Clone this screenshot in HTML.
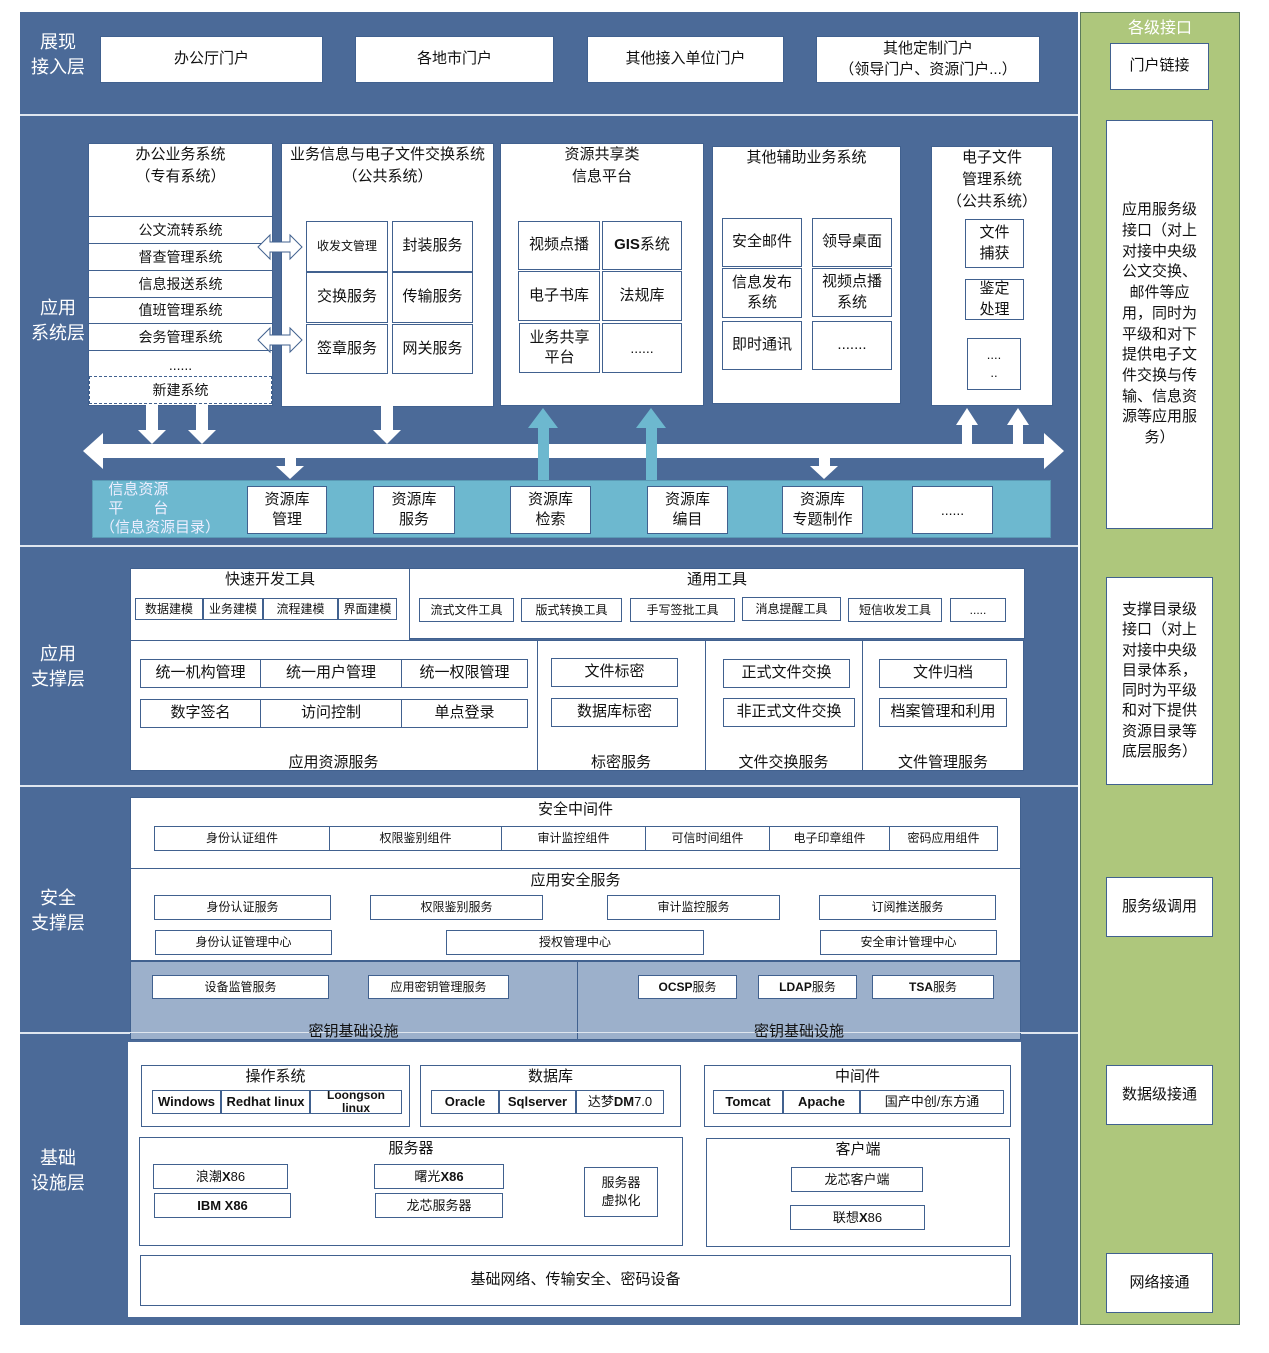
<!DOCTYPE html>
<html><head><meta charset="utf-8">
<style>
*{margin:0;padding:0;box-sizing:border-box}
body{width:1269px;height:1353px;background:#fff;position:relative;overflow:hidden;font-family:"Liberation Sans","Noto Sans CJK SC",sans-serif;color:#111}
div{position:absolute}
.b{background:#fff;border:1px solid #41618f;display:flex;align-items:center;justify-content:center;text-align:center;font-size:14px;line-height:1.35}
.s{font-size:12px}
.w{background:#fff}
.t{text-align:center;font-size:14px;line-height:1.4}
.lay{color:#fff;font-size:18px;line-height:1.4;text-align:center;width:80px;left:18px}
.g{background:#fff;border:1px solid #41618f;display:flex;align-items:flex-start;justify-content:center;text-align:center;font-size:14px;line-height:1.45}
.bold{font-weight:bold}
</style></head><body>
<div style="left:20px;top:12px;width:1058px;height:1313px;background:#4b6a98"></div>
<div style="left:20px;top:114px;width:1058px;height:2px;background:#dfe6ef"></div>
<div style="left:20px;top:545px;width:1058px;height:2px;background:#dfe6ef"></div>
<div style="left:20px;top:785px;width:1058px;height:2px;background:#dfe6ef"></div>
<div style="left:20px;top:1032px;width:1058px;height:2px;background:#dfe6ef"></div>
<div style="left:1080px;top:12px;width:160px;height:1313px;background:#aec77c;border:1px solid #5b7a5a"></div>
<div style="left:1080px;top:14px;width:160px;text-align:center;color:#fff;font-size:16px">各级接口</div>
<div class="b" style="left:1110px;top:43px;width:99px;height:47px;font-size:15px">门户链接</div>
<div class="b" style="left:1106px;top:120px;width:107px;height:409px;font-size:15px;padding:0 13px;line-height:1.38">应用服务级接口（对上对接中央级公文交换、邮件等应用，同时为平级和对下提供电子文件交换与传输、信息资源等应用服务）</div>
<div class="b" style="left:1106px;top:577px;width:107px;height:208px;font-size:15px;padding:0 13px;line-height:1.35">支撑目录级接口（对上对接中央级目录体系，同时为平级和对下提供资源目录等底层服务）</div>
<div class="b" style="left:1106px;top:877px;width:107px;height:60px;font-size:15px">服务级调用</div>
<div class="b" style="left:1106px;top:1065px;width:107px;height:60px;font-size:15px">数据级接通</div>
<div class="b" style="left:1106px;top:1253px;width:107px;height:60px;font-size:15px">网络接通</div>

<div class="lay" style="top:30px">展现<br>接入层</div>
<div class="lay" style="top:296px">应用<br>系统层</div>
<div class="lay" style="top:642px">应用<br>支撑层</div>
<div class="lay" style="top:886px">安全<br>支撑层</div>
<div class="lay" style="top:1146px">基础<br>设施层</div>

<div class="b" style="left:100px;top:36px;width:223px;height:47px;font-size:15px">办公厅门户</div>
<div class="b" style="left:355px;top:36px;width:199px;height:47px;font-size:15px">各地市门户</div>
<div class="b" style="left:587px;top:36px;width:197px;height:47px;font-size:15px">其他接入单位门户</div>
<div class="b" style="left:816px;top:36px;width:224px;height:47px;font-size:15px">其他定制门户<br>（领导门户、资源门户...）</div>

<div class="g" style="left:88px;top:143px;width:185px;height:263px;font-size:15px">办公业务系统<br>（专有系统）</div>
<div class="b" style="left:88px;top:216px;width:185px;height:28px">公文流转系统</div>
<div class="b" style="left:88px;top:243px;width:185px;height:28px">督查管理系统</div>
<div class="b" style="left:88px;top:270px;width:185px;height:28px">信息报送系统</div>
<div class="b" style="left:88px;top:297px;width:185px;height:27px">值班管理系统</div>
<div class="b" style="left:88px;top:323px;width:185px;height:28px">会务管理系统</div>
<div class="t" style="left:88px;top:356px;width:185px">......</div>
<div class="b" style="left:89px;top:376px;width:183px;height:28px;border:1px dashed #41618f">新建系统</div>

<div class="g" style="left:281px;top:143px;width:213px;height:264px;font-size:15px">业务信息与电子文件交换系统<br>（公共系统）</div>
<div class="b s" style="left:306px;top:221px;width:82px;height:51px">收发文管理</div>
<div class="b" style="left:392px;top:221px;width:81px;height:51px;font-size:15px">封装服务</div>
<div class="b" style="left:306px;top:272px;width:82px;height:51px;font-size:15px">交换服务</div>
<div class="b" style="left:392px;top:272px;width:81px;height:51px;font-size:15px">传输服务</div>
<div class="b" style="left:306px;top:324px;width:82px;height:50px;font-size:15px">签章服务</div>
<div class="b" style="left:392px;top:324px;width:81px;height:50px;font-size:15px">网关服务</div>

<div class="g" style="left:500px;top:143px;width:204px;height:263px;font-size:15px">资源共享类<br>信息平台</div>
<div class="b" style="left:518px;top:221px;width:82px;height:49px;font-size:15px">视频点播</div>
<div class="b" style="left:602px;top:221px;width:80px;height:49px;font-size:15px"><b>GIS</b>系统</div>
<div class="b" style="left:518px;top:271px;width:82px;height:50px;font-size:15px">电子书库</div>
<div class="b" style="left:602px;top:271px;width:80px;height:50px;font-size:15px">法规库</div>
<div class="b" style="left:519px;top:323px;width:81px;height:50px;font-size:15px">业务共享<br>平台</div>
<div class="b" style="left:602px;top:323px;width:80px;height:50px">......</div>

<div class="g" style="left:712px;top:146px;width:189px;height:258px;font-size:15px">其他辅助业务系统</div>
<div class="b" style="left:722px;top:218px;width:80px;height:49px;font-size:15px">安全邮件</div>
<div class="b" style="left:812px;top:218px;width:80px;height:49px;font-size:15px">领导桌面</div>
<div class="b" style="left:722px;top:268px;width:80px;height:50px;font-size:15px">信息发布<br>系统</div>
<div class="b" style="left:812px;top:268px;width:80px;height:49px;font-size:15px">视频点播<br>系统</div>
<div class="b" style="left:722px;top:321px;width:80px;height:49px;font-size:15px">即时通讯</div>
<div class="b" style="left:812px;top:321px;width:80px;height:49px;font-size:15px">.......</div>

<div class="g" style="left:931px;top:146px;width:122px;height:260px;font-size:15px">电子文件<br>管理系统<br>（公共系统）</div>
<div class="b" style="left:965px;top:219px;width:59px;height:49px;font-size:15px">文件<br>捕获</div>
<div class="b" style="left:965px;top:279px;width:59px;height:41px;font-size:15px">鉴定<br>处理</div>
<div class="b" style="left:967px;top:338px;width:54px;height:52px;font-size:13px">....<br>..</div>

<div style="left:92px;top:480px;width:959px;height:58px;background:#6db8cf;border:1px solid #5a9ab5"></div>
<div style="left:100px;top:481px;width:135px;color:#eef;font-size:15px;line-height:1.25">&nbsp;&nbsp;信息资源<br>&nbsp;&nbsp;平　　台<br>（信息资源目录）</div>
<div class="b" style="left:247px;top:486px;width:80px;height:48px;font-size:15px">资源库<br>管理</div>
<div class="b" style="left:373px;top:486px;width:82px;height:48px;font-size:15px">资源库<br>服务</div>
<div class="b" style="left:510px;top:486px;width:81px;height:48px;font-size:15px">资源库<br>检索</div>
<div class="b" style="left:647px;top:486px;width:81px;height:48px;font-size:15px">资源库<br>编目</div>
<div class="b" style="left:782px;top:486px;width:81px;height:48px;font-size:15px">资源库<br>专题制作</div>
<div class="b" style="left:912px;top:486px;width:81px;height:48px">......</div>

<svg style="position:absolute;left:0;top:0" width="1269" height="1353">
<g fill="#fff">
<polygon points="83,451 103,433 103,444 1044,444 1044,433 1064,451 1044,469 1044,458 103,458 103,469"/>
<polygon points="146,405 158,405 158,430 166,430 152,444 138,430 146,430"/>
<polygon points="196,405 208,405 208,430 216,430 202,444 188,430 196,430"/>
<polygon points="381,406 393,406 393,430 401,430 387,444 373,430 381,430"/>
<polygon points="285,458 296,458 296,466 304,466 290,479 276,466 285,466"/>
<polygon points="819,458 830,458 830,466 838,466 824,479 810,466 819,466"/>
<polygon points="962,444 972,444 972,425 978,425 967,408 956,425 962,425"/>
<polygon points="1013,444 1023,444 1023,425 1029,425 1018,408 1007,425 1013,425"/>
</g>
<g fill="#6db8cf">
<polygon points="538,480 549,480 549,428 558,428 543,408 528,428 538,428"/>
<polygon points="646,480 657,480 657,428 666,428 651,408 636,428 646,428"/>
</g>
<g fill="#fff" stroke="#41618f" stroke-width="1">
<polygon points="258,247 270,235 270,242 290,242 290,235 302,247 290,259 290,252 270,252 270,259"/>
<polygon points="258,340 270,328 270,335 290,335 290,328 302,340 290,352 290,345 270,345 270,352"/>
</g>
</svg>

<div class="g" style="left:130px;top:568px;width:280px;height:73px;font-size:15px">快速开发工具</div>
<div class="b s" style="left:135px;top:598px;width:68px;height:22px">数据建模</div>
<div class="b s" style="left:203px;top:598px;width:60px;height:22px">业务建模</div>
<div class="b s" style="left:263px;top:598px;width:75px;height:22px">流程建模</div>
<div class="b s" style="left:338px;top:598px;width:59px;height:22px">界面建模</div>
<div class="g" style="left:409px;top:568px;width:616px;height:71px;font-size:15px">通用工具</div>
<div class="b s" style="left:419px;top:598px;width:95px;height:24px">流式文件工具</div>
<div class="b s" style="left:521px;top:598px;width:101px;height:24px">版式转换工具</div>
<div class="b s" style="left:630px;top:598px;width:105px;height:24px">手写签批工具</div>
<div class="b s" style="left:742px;top:597px;width:99px;height:24px">消息提醒工具</div>
<div class="b s" style="left:848px;top:598px;width:94px;height:24px">短信收发工具</div>
<div class="b s" style="left:950px;top:598px;width:56px;height:24px">.....</div>
<div class="w" style="left:130px;top:640px;width:894px;height:131px;border:1px solid #41618f"></div>
<div style="left:537px;top:640px;width:1px;height:131px;background:#41618f"></div>
<div style="left:705px;top:640px;width:1px;height:131px;background:#41618f"></div>
<div style="left:862px;top:640px;width:1px;height:131px;background:#41618f"></div>
<div class="b" style="left:140px;top:659px;width:121px;height:29px;font-size:15px">统一机构管理</div>
<div class="b" style="left:260px;top:659px;width:142px;height:29px;font-size:15px">统一用户管理</div>
<div class="b" style="left:401px;top:659px;width:127px;height:29px;font-size:15px">统一权限管理</div>
<div class="b" style="left:140px;top:699px;width:121px;height:29px;font-size:15px">数字签名</div>
<div class="b" style="left:260px;top:699px;width:142px;height:29px;font-size:15px">访问控制</div>
<div class="b" style="left:401px;top:699px;width:127px;height:29px;font-size:15px">单点登录</div>
<div class="b" style="left:551px;top:658px;width:127px;height:29px;font-size:15px">文件标密</div>
<div class="b" style="left:551px;top:698px;width:127px;height:29px;font-size:15px">数据库标密</div>
<div class="b" style="left:723px;top:659px;width:127px;height:29px;font-size:15px">正式文件交换</div>
<div class="b" style="left:723px;top:698px;width:132px;height:29px;font-size:15px">非正式文件交换</div>
<div class="b" style="left:879px;top:659px;width:128px;height:29px;font-size:15px">文件归档</div>
<div class="b" style="left:879px;top:698px;width:128px;height:29px;font-size:15px">档案管理和利用</div>
<div class="t" style="left:130px;top:752px;width:407px;font-size:15px">应用资源服务</div>
<div class="t" style="left:537px;top:752px;width:168px;font-size:15px">标密服务</div>
<div class="t" style="left:705px;top:752px;width:157px;font-size:15px">文件交换服务</div>
<div class="t" style="left:862px;top:752px;width:162px;font-size:15px">文件管理服务</div>

<div class="w" style="left:130px;top:797px;width:891px;height:164px;border:1px solid #41618f"></div>
<div style="left:130px;top:868px;width:891px;height:1px;background:#41618f"></div>
<div class="t" style="left:130px;top:799px;width:891px;font-size:15px">安全中间件</div>
<div class="b s" style="left:154px;top:826px;width:176px;height:25px">身份认证组件</div>
<div class="b s" style="left:329px;top:826px;width:173px;height:25px">权限鉴别组件</div>
<div class="b s" style="left:501px;top:826px;width:145px;height:25px">审计监控组件</div>
<div class="b s" style="left:645px;top:826px;width:125px;height:25px">可信时间组件</div>
<div class="b s" style="left:769px;top:826px;width:121px;height:25px">电子印章组件</div>
<div class="b s" style="left:889px;top:826px;width:109px;height:25px">密码应用组件</div>
<div class="t" style="left:130px;top:870px;width:891px;font-size:15px">应用安全服务</div>
<div class="b s" style="left:154px;top:895px;width:177px;height:25px">身份认证服务</div>
<div class="b s" style="left:370px;top:895px;width:173px;height:25px">权限鉴别服务</div>
<div class="b s" style="left:607px;top:895px;width:173px;height:25px">审计监控服务</div>
<div class="b s" style="left:819px;top:895px;width:177px;height:25px">订阅推送服务</div>
<div class="b s" style="left:155px;top:930px;width:177px;height:25px">身份认证管理中心</div>
<div class="b s" style="left:446px;top:930px;width:258px;height:25px">授权管理中心</div>
<div class="b s" style="left:820px;top:930px;width:177px;height:25px">安全审计管理中心</div>
<div style="left:130px;top:961px;width:891px;height:79px;background:#9cb0cb;border:1px solid #41618f"></div>
<div style="left:577px;top:961px;width:1px;height:79px;background:#41618f"></div>
<div style="left:20px;top:1032px;width:1058px;height:1px;background:#dfe6ef"></div>
<div class="b s" style="left:152px;top:975px;width:177px;height:24px">设备监管服务</div>
<div class="b s" style="left:368px;top:975px;width:141px;height:24px">应用密钥管理服务</div>
<div class="b s" style="left:638px;top:975px;width:99px;height:24px"><b>OCSP</b>服务</div>
<div class="b s" style="left:758px;top:975px;width:99px;height:24px"><b>LDAP</b>服务</div>
<div class="b s" style="left:872px;top:975px;width:122px;height:24px"><b>TSA</b>服务</div>
<div class="t" style="left:130px;top:1021px;width:447px;font-size:15px">密钥基础设施</div>
<div class="t" style="left:577px;top:1021px;width:444px;font-size:15px">密钥基础设施</div>

<div class="w" style="left:128px;top:1042px;width:893px;height:275px"></div>
<div class="g" style="left:141px;top:1065px;width:269px;height:62px;font-size:15px">操作系统</div>
<div class="b bold s" style="left:152px;top:1090px;width:69px;height:24px;font-size:13px">Windows</div>
<div class="b bold s" style="left:221px;top:1090px;width:89px;height:24px;font-size:13px">Redhat linux</div>
<div class="b bold s" style="left:310px;top:1090px;width:92px;height:24px;font-size:12px;line-height:1.1;overflow:hidden">Loongson<br>linux</div>
<div class="g" style="left:420px;top:1065px;width:261px;height:62px;font-size:15px">数据库</div>
<div class="b bold" style="left:431px;top:1090px;width:68px;height:24px;font-size:13px">Oracle</div>
<div class="b bold" style="left:499px;top:1090px;width:77px;height:24px;font-size:13px">Sqlserver</div>
<div class="b" style="left:576px;top:1090px;width:88px;height:24px;font-size:13px">达梦<b>DM</b>7.0</div>
<div class="g" style="left:704px;top:1065px;width:307px;height:62px;font-size:15px">中间件</div>
<div class="b bold" style="left:713px;top:1090px;width:70px;height:24px;font-size:13px">Tomcat</div>
<div class="b bold" style="left:783px;top:1090px;width:77px;height:24px;font-size:13px">Apache</div>
<div class="b" style="left:860px;top:1090px;width:144px;height:24px;font-size:13px">国产中创/东方通</div>
<div class="g" style="left:139px;top:1137px;width:544px;height:109px;font-size:15px">服务器</div>
<div class="b" style="left:153px;top:1164px;width:135px;height:25px;font-size:13px">浪潮<b>X</b>86</div>
<div class="b bold" style="left:154px;top:1193px;width:137px;height:25px;font-size:13px">IBM X86</div>
<div class="b" style="left:374px;top:1164px;width:130px;height:25px;font-size:13px">曙光<b>X86</b></div>
<div class="b" style="left:375px;top:1193px;width:128px;height:25px;font-size:13px">龙芯服务器</div>
<div class="b" style="left:584px;top:1167px;width:74px;height:50px;font-size:13px">服务器<br>虚拟化</div>
<div class="g" style="left:706px;top:1138px;width:304px;height:109px;font-size:15px">客户端</div>
<div class="b" style="left:791px;top:1167px;width:132px;height:25px;font-size:13px">龙芯客户端</div>
<div class="b" style="left:790px;top:1205px;width:135px;height:25px;font-size:13px">联想<b>X</b>86</div>
<div class="b" style="left:140px;top:1255px;width:871px;height:51px;font-size:15px">基础网络、传输安全、密码设备</div>
</body></html>
